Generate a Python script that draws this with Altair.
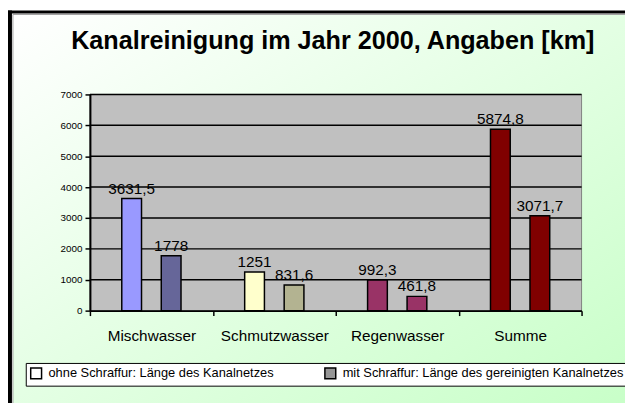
import altair as alt
import pandas as pd

# ---- data ----
categories = ["Mischwasser", "Schmutzwasser", "Regenwasser", "Summe"]
series = [
    "ohne Schraffur: Länge des Kanalnetzes",
    "mit Schraffur: Länge des gereinigten Kanalnetzes",
]
ohne_values = [3631.5, 1251, 992.3, 5874.8]
mit_values = [1778, 831.6, 461.8, 3071.7]
ohne_labels = ["3631,5", "1251", "992,3", "5874,8"]
mit_labels = ["1778", "831,6", "461,8", "3071,7"]
ohne_colors = ["#9999FF", "#FFFFCC", "#993366", "#800000"]
mit_colors = ["#666699", "#B3B391", "#993366", "#800000"]
legend_colors = ["#FFFFFF", "#969696"]
y_ticks = [0, 1000, 2000, 3000, 4000, 5000, 6000, 7000]
title_text = "Kanalreinigung im Jahr 2000, Angaben [km]"

rows = []
for i, c in enumerate(categories):
    rows.append({"category": c, "series": series[0], "value": ohne_values[i],
                 "label": ohne_labels[i], "color": ohne_colors[i]})
    rows.append({"category": c, "series": series[1], "value": mit_values[i],
                 "label": mit_labels[i], "color": mit_colors[i]})
df = pd.DataFrame(rows)
grid_df = pd.DataFrame({"value": y_ticks[1:]})

FONT = "Liberation Sans"
W, H = 498, 219

x_enc = alt.X(
    "category:N", sort=categories,
    scale=alt.Scale(paddingInner=0, paddingOuter=0),
    axis=alt.Axis(title=None, labelAngle=0, labelFont=FONT, labelFontSize=15.5,
                  labelColor="black", labelPadding=13, domainColor="black",
                  domainWidth=2, tickColor="black", tickWidth=1.5, tickSize=5,
                  tickBand="extent", grid=False, zindex=1, labelOverlap=False),
)
xoff_enc = alt.XOffset("series:N", sort=series,
                       scale=alt.Scale(paddingInner=0.5, paddingOuter=0.806))
y_enc = alt.Y(
    "value:Q", scale=alt.Scale(domain=[0, 7000], nice=False),
    axis=alt.Axis(title=None, values=y_ticks, format="d", labelFont=FONT,
                  labelFontSize=10, labelColor="black", labelPadding=3,
                  domainColor="black", domainWidth=2, tickColor="black",
                  tickWidth=1.5, tickSize=5, grid=False, zindex=1,
                  labelOverlap=False),
)

one = alt.Data(values=[{}])

bg = alt.Chart(one).mark_rect(
    color=alt.LinearGradient(
        gradient="linear",
        stops=[alt.GradientStop(color="#FFFFFF", offset=0),
               alt.GradientStop(color="#C8FFC8", offset=1)],
        x1=0, y1=0, x2=1, y2=1),
    stroke="#A0A0A0", strokeWidth=1,
).encode(x=alt.value(-78), x2=alt.value(545), y=alt.value(-81), y2=alt.value(315))

frame_top = alt.Chart(one).mark_rect(color="black").encode(
    x=alt.value(-83), x2=alt.value(545), y=alt.value(-85), y2=alt.value(-82))
frame_left = alt.Chart(one).mark_rect(color="black").encode(
    x=alt.value(-83), x2=alt.value(-79), y=alt.value(-85), y2=alt.value(315))

title = alt.Chart(one).mark_text(
    text=title_text, font=FONT, fontSize=25.5, fontWeight="bold", color="black",
    align="center", baseline="alphabetic",
).encode(x=alt.value(246), y=alt.value(-46))

plot_bg = alt.Chart(one).mark_rect(color="#C0C0C0", stroke="#808080", strokeWidth=1).encode(
    x=alt.value(0), x2=alt.value(W), y=alt.value(0), y2=alt.value(H))

grid = alt.Chart(grid_df).mark_rule(color="black", strokeWidth=1.5).encode(
    y=y_enc, x=alt.value(0), x2=alt.value(W))

bars = alt.Chart(df).mark_bar(stroke="black", strokeWidth=1.5).encode(
    x=x_enc, xOffset=xoff_enc, y=y_enc,
    fill=alt.Fill("color:N", scale=None),
)

labels = alt.Chart(df).mark_text(
    font=FONT, fontSize=15.5, color="black", baseline="middle", dy=-10
).encode(x=x_enc, xOffset=xoff_enc, y=y_enc, text="label:N")

legend_layer = alt.Chart(df).mark_square(opacity=0, size=10).encode(
    x=x_enc, xOffset=xoff_enc, y=y_enc,
    fill=alt.Fill(
        "series:N",
        scale=alt.Scale(domain=series, range=legend_colors),
        legend=alt.Legend(
            title=None, orient="none", legendX=-65, legendY=272,
            direction="horizontal", columns=2, columnPadding=48,
            padding=4, fillColor="white", strokeColor="black",
            symbolType="square", symbolSize=121, symbolOpacity=1,
            symbolStrokeColor="black", symbolStrokeWidth=1.5,
            labelFont=FONT, labelFontSize=13, labelColor="black",
            labelOffset=6, labelLimit=500,
        ),
    ),
)

chart = alt.layer(
    bg, frame_top, frame_left, title, plot_bg, grid, bars, labels, legend_layer
).properties(
    width=W, height=H,
    padding={"left": 83, "top": 85, "right": 44, "bottom": 91},
    autosize=alt.AutoSizeParams(type="none"),
).configure_view(stroke=None).configure(background="white")

chart.save("out.html", embed_options={"renderer": "svg", "actions": False})
